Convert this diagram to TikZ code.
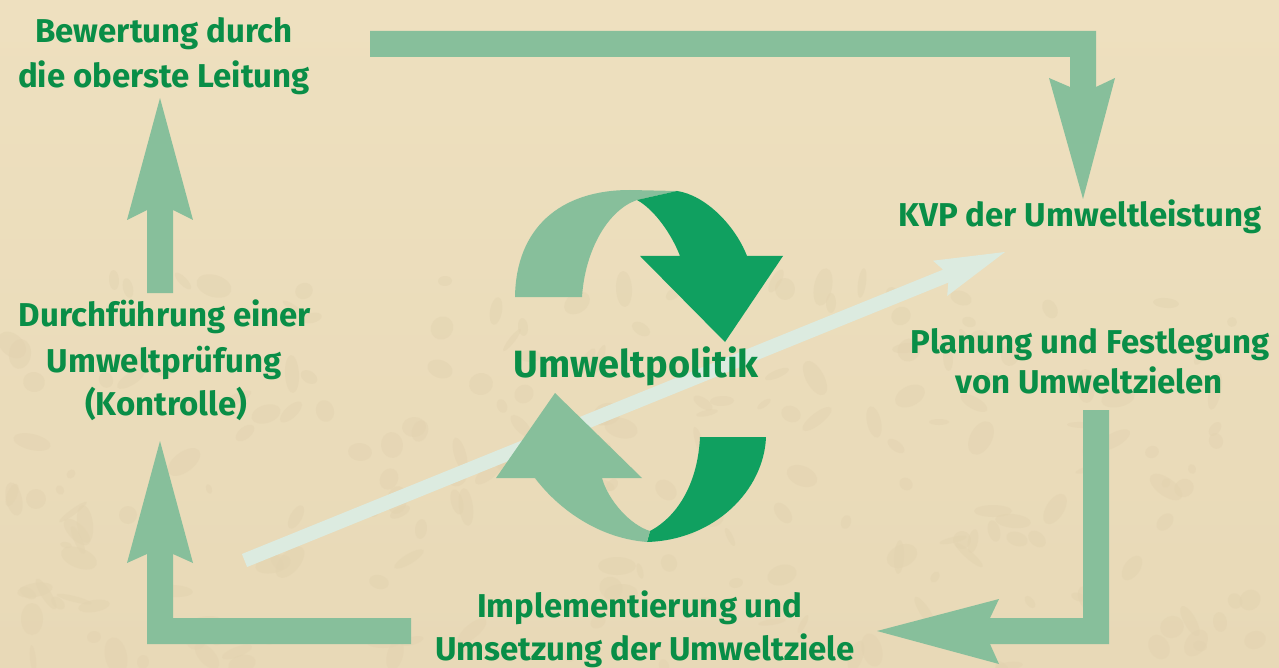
\documentclass[tikz,border=0pt]{standalone}
\usepackage{fontspec}
\setmainfont{Fira Sans}
\definecolor{bgtop}{HTML}{EEE0BF}
\definecolor{bgbot}{HTML}{E8D9B7}
\definecolor{spot}{HTML}{E2D2AF}
\definecolor{lgreen}{HTML}{87BF9B}
\definecolor{dgreen}{HTML}{10A060}
\definecolor{txtgreen}{HTML}{098E47}
\definecolor{pale}{HTML}{DCEBE0}
\tikzset{
  lab/.style={font=\fontsize{33}{40}\selectfont\bfseries, text=txtgreen, inner sep=0pt, anchor=base},
  biglab/.style={font=\fontsize{38}{46}\selectfont\bfseries, text=txtgreen, inner sep=0pt, anchor=base},
  blockarrow/.style={fill=lgreen, draw=none},
  ribbonlight/.style={fill=lgreen, draw=none},
  ribbondark/.style={fill=dgreen, draw=none},
  diag/.style={fill=pale, draw=none},
  texture/.style={fill=spot, draw=none, opacity=0.45}
}
\begin{document}
\begin{tikzpicture}[x=1pt,y=-1pt]
\useasboundingbox (0,0) rectangle (1279,668);
\shade[top color=bgtop, bottom color=bgbot] (0,0) rectangle (1279,668);

% mottled texture of the background
\pgfmathsetseed{4242}
\foreach \i in {1,...,220} {
  \pgfmathsetmacro{\tx}{random(0,1279)}
  \pgfmathsetmacro{\ty}{280+random(0,388)}
  \pgfmathsetmacro{\rx}{5+random(0,14)}
  \pgfmathsetmacro{\ry}{3+random(0,8)}
  \pgfmathsetmacro{\rot}{random(0,180)}
  \fill[texture, rotate around={\rot:(\tx,\ty)}] (\tx,\ty) ellipse [x radius=\rx, y radius=\ry];
}

% block arrows of the cycle
\coordinate (toptip) at (1083,199);
\fill[blockarrow] (370,31) -- (1096,31) -- (1096,87) -- (1115,78) -- (toptip) -- (1049,78) -- (1070,87) -- (1070,57) -- (370,57) -- cycle;
\coordinate (righttip) at (877,631);
\fill[blockarrow] (1083,410) -- (1109,410) -- (1109,644) -- (990,644) -- (999,664) -- (righttip) -- (999,599) -- (990,618) -- (1083,618) -- cycle;
\coordinate (bltip) at (160,441);
\fill[blockarrow] (411,618) -- (411,644) -- (147,644) -- (147,554) -- (127,563) -- (bltip) -- (193,563) -- (173,554) -- (173,618) -- cycle;
\coordinate (lmtip) at (160,98);
\fill[blockarrow] (147,293) -- (147,210) -- (127,220) -- (lmtip) -- (193,220) -- (173,210) -- (173,293) -- cycle;

% diagonal pale arrow
\coordinate (dtip) at (1005,252);
\fill[diag] (241.9,554.0) -- (943.1,269.6) -- (933.0,260.7) -- (dtip) -- (947.2,295.9) -- (948.3,282.6) -- (247.1,567.0) -- cycle;

% central circular ribbon arrows
\fill[ribbonlight] (515,297) .. controls (516,228) and (560,190) .. (630,190) -- (677,191) -- (637,200)
  .. controls (608,210) and (585,250) .. (582,297) -- cycle;
\fill[ribbondark] (637,200) -- (677,191) .. controls (705,195) and (735,225) .. (747,256)
  -- (783,256) -- (725,342) -- (640,256) -- (680,256)
  .. controls (672,235) and (655,210) .. (637,200) -- cycle;
\fill[ribbondark] (700,437) -- (766,437) .. controls (764,490) and (715,540) .. (647,542)
  -- (650,531) .. controls (680,515) and (698,480) .. (700,437) -- cycle;
\fill[ribbonlight] (535,478) .. controls (555,505) and (595,538) .. (647,542) -- (650,531)
  .. controls (630,525) and (608,500) .. (602,478) -- (642,478) -- (555,393) -- (496,478) -- cycle;

% texts
\node[lab] (bew1) at (164,43) {Bewertung durch};
\node[lab] (bew2) at (164,88) {die oberste Leitung};
\node[lab] (kvp) at (1080,227) {KVP der Umweltleistung};
\node[lab] (plan1) at (1090,353) {Planung und Festlegung};
\node[lab] (plan2) at (1089,393) {von Umweltzielen};
\node[lab] (dur1) at (165,326) {Durchführung einer};
\node[lab] (dur2) at (164,372) {Umweltprüfung};
\node[lab] (dur3) at (166,415) {(Kontrolle)};
\node[lab] (imp1) at (640,617) {Implementierung und};
\node[lab] (imp2) at (645,660) {Umsetzung der Umweltziele};
\node[biglab] (pol) at (636,377) {Umweltpolitik};
\end{tikzpicture}
\end{document}
